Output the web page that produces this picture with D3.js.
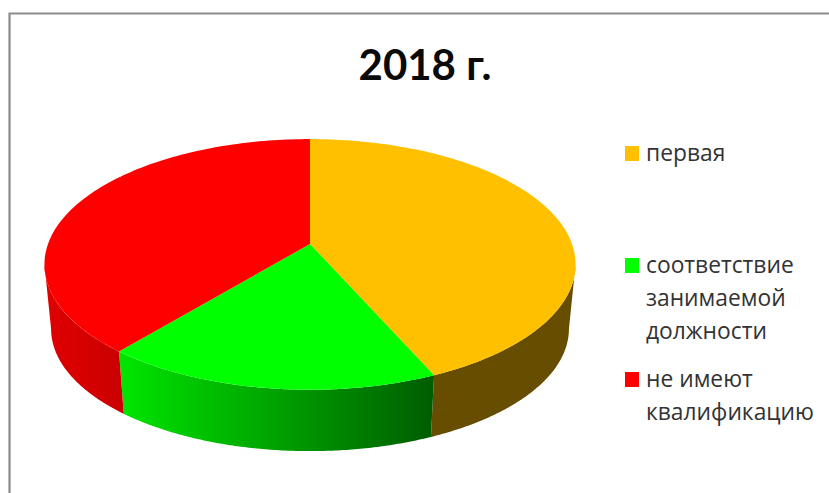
<!DOCTYPE html>
<html>
<head>
<meta charset="utf-8">
<script src="https://cdn.jsdelivr.net/npm/d3@7"></script>
<style>
  html, body { margin: 0; padding: 0; background: #fff; overflow: hidden; }
  .legend-label { font-family: "Open Sans", sans-serif; font-size: 22.8px; fill: #333; }
  .title { font-family: Lato, sans-serif; font-weight: 700; font-size: 42px; fill: #0a0a0a; }
</style>
</head>
<body>
<div id="chart"></div>
<script>
// values, percent of total, clockwise from 12 o'clock
const title = '2018 г.';
const categories = ['первая', 'соответствие занимаемой должности', 'не имеют квалификацию'];
const values = [43.4, 17.6, 39];
const legendLines = [['первая'], ['соответствие', 'занимаемой', 'должности'], ['не имеют', 'квалификацию']];
const topColors = ['#ffc000', '#00ff00', '#ff0000'];
const sideColors = [['#664d00', '#664d00'], ['#00e600', '#005c00'], ['#e00000', '#cc0000']];

const width = 829, height = 493;

// pie is a disc seen in perspective, so centre of the disc is not centre of the ellipse
const disc = { cx: 310, cy: 244, a: 262, b: 122, k: 0.163, depth: 65, shrink: 0.975 };

function project(angle, lower) {
    let u = Math.sin(angle), v = -Math.cos(angle);
    let w = 1 - disc.k * v;
    let s = lower ? disc.shrink : 1;
    return [disc.cx + s * disc.a * u / w,
            disc.cy + (lower ? disc.depth : 0) + s * disc.b * v / w];
}

let svg = d3.select('#chart').append('svg')
    .attr('width', width)
    .attr('height', height);

// frame, it runs off the right and bottom of the picture
svg.append('path')
    .attr('d', `M9.5,${height}V13.5H${width}`)
    .attr('fill', 'none')
    .attr('stroke', '#8c8c8c')
    .attr('stroke-width', 2.2);

svg.append('text').classed('title', true)
    .attr('x', 425)
    .attr('y', 80)
    .attr('text-anchor', 'middle')
    .text(title);

let pie = d3.pie().sort(null)(values);
let lineGen = d3.line();

function arcAngles(d) {
    return d3.range(0, 121).map(i => d.startAngle + (d.endAngle - d.startAngle) * i / 120);
}

// side wall is only seen below the widest point of the disc
function frontAngles(d) {
    let lo = Math.PI - Math.acos(disc.k);
    let hi = Math.PI + Math.acos(disc.k);
    let start = Math.max(d.startAngle, lo), end = Math.min(d.endAngle, hi);
    return d3.range(0, 121).map(i => start + (end - start) * i / 120);
}

let defs = svg.append('defs');
pie.forEach((d, i) => {
    let xs = frontAngles(d).map(a => project(a, false)[0]);
    let grad = defs.append('linearGradient')
        .attr('id', 'side-' + i)
        .attr('gradientUnits', 'userSpaceOnUse')
        .attr('x1', d3.min(xs)).attr('y1', 0)
        .attr('x2', d3.max(xs)).attr('y2', 0);
    grad.append('stop').attr('offset', 0).attr('stop-color', sideColors[i][0]);
    grad.append('stop').attr('offset', 1).attr('stop-color', sideColors[i][1]);
});

svg.append('g').selectAll('path')
    .data(pie)
    .join('path')
    .attr('d', d => {
        let angles = frontAngles(d);
        return lineGen(angles.map(a => project(a, false))
            .concat(angles.slice().reverse().map(a => project(a, true)))) + 'Z';
    })
    .attr('fill', (d, i) => `url(#side-${i})`);

svg.append('g').selectAll('path')
    .data(pie)
    .join('path')
    .attr('d', d => lineGen([[disc.cx, disc.cy]].concat(arcAngles(d).map(a => project(a, false)))) + 'Z')
    .attr('fill', (d, i) => topColors[i]);

// legend
const legendY = [146, 258, 372];
let legend = svg.append('g').selectAll('g')
    .data(categories)
    .join('g')
    .attr('transform', (d, i) => `translate(625,${legendY[i]})`);

legend.append('rect')
    .attr('width', 14)
    .attr('height', 15)
    .attr('fill', (d, i) => topColors[i]);

legend.each(function(d, i) {
    d3.select(this).selectAll('text')
        .data(legendLines[i])
        .join('text')
        .classed('legend-label', true)
        .attr('x', 21)
        .attr('y', (t, j) => 15 + j * 33)
        .text(t => t);
});
</script>
</body>
</html>
